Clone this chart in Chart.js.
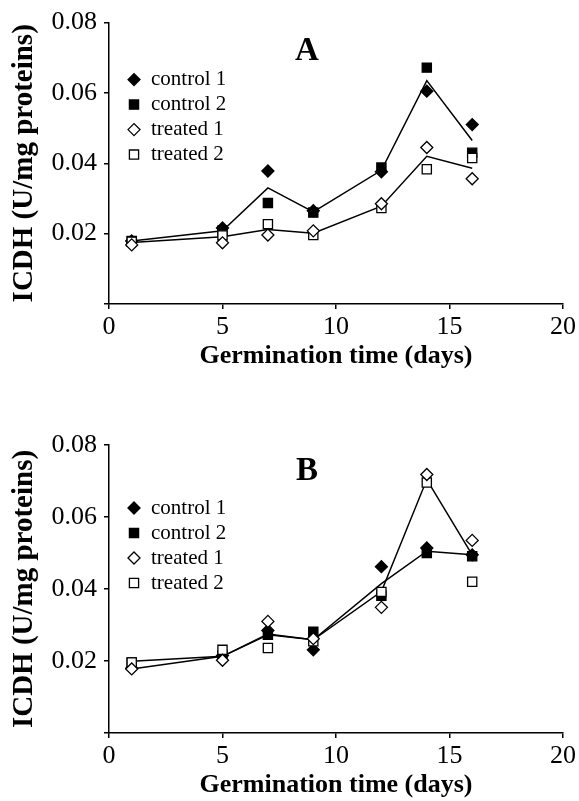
<!DOCTYPE html>
<html>
<head>
<meta charset="utf-8">
<script src="https://cdn.jsdelivr.net/npm/chart.js@4.4.1/dist/chart.umd.min.js"></script>
<style>
  body { margin: 0; background: #fff; }
  .panel { position: absolute; left: 0; width: 579px; }
  #panelA { top: 0; height: 400px; }
  #panelB { top: 400px; height: 401px; }
</style>
</head>
<body>
<div class="panel" id="panelA"><canvas id="chartA" width="579" height="400"></canvas></div>
<div class="panel" id="panelB"><canvas id="chartB" width="579" height="401"></canvas></div>
<script>
// sampling days (x) and axis ticks
const days = [1, 5, 7, 9, 12, 14, 16];
const yTicks = [0.02, 0.04, 0.06, 0.08];
const yTickLabels = ['0.02', '0.04', '0.06', '0.08'];
const seriesNames = ['control 1', 'control 2', 'treated 1', 'treated 2'];

// panel A values (U/mg proteins)
const aControl1 = [0.0179, 0.0216, 0.0378, 0.0265, 0.0376, 0.0605, 0.0510];
const aControl2 = [0.0179, 0.0209, 0.0287, 0.0260, 0.0388, 0.0672, 0.0430];
const aTreated1 = [0.0168, 0.0174, 0.0196, 0.0208, 0.0285, 0.0445, 0.0356];
const aTreated2 = [0.0177, 0.0195, 0.0227, 0.0196, 0.0273, 0.0383, 0.0415];
const aControlLine = [0.0179, 0.0208, 0.0330, 0.0262, 0.0380, 0.0635, 0.0465];
const aTreatedLine = [0.0175, 0.0191, 0.0212, 0.0201, 0.0278, 0.0420, 0.0386];

// panel B values
const bControl1 = [0.0180, 0.0215, 0.0285, 0.0231, 0.0462, 0.0514, 0.0495];
const bControl2 = [0.0196, 0.0215, 0.0273, 0.0281, 0.0381, 0.0500, 0.0491];
const bTreated1 = [0.0178, 0.0202, 0.0310, 0.0262, 0.0349, 0.0718, 0.0535];
const bTreated2 = [0.0196, 0.0231, 0.0236, 0.0255, 0.0392, 0.0696, 0.0420];
const bControlLine = [0.0199, 0.0213, 0.0275, 0.0259, 0.0415, 0.0505, 0.0495];
const bTreatedLine = [0.0178, 0.0213, 0.0273, 0.0259, 0.0393, 0.0704, 0.0495];

const serif = '"Liberation Serif", "Times New Roman", serif';
Chart.defaults.font.family = serif;
Chart.defaults.color = '#000';

const pts = values => days.map((d, i) => ({ x: d, y: values[i] }));

// marker look for each of the four series
const markerStyles = [
  { style: 'rectRot', bg: '#000', r: 6 },
  { style: 'rect', bg: '#000', r: 6.5 },
  { style: 'rectRot', bg: '#fff', r: 6 },
  { style: 'rect', bg: '#fff', r: 6.5 },
];

// panel letter + legend drawn inside the plot area
const panelExtras = {
  id: 'panelExtras',
  afterDatasetsDraw(chart, args, opts) {
    const ctx = chart.ctx;
    const area = chart.chartArea;
    ctx.save();
    ctx.fillStyle = '#000';
    ctx.textAlign = 'center';
    ctx.textBaseline = 'alphabetic';
    ctx.font = 'bold 33px ' + serif;
    ctx.fillText(opts.letter, opts.letterX, area.top + opts.letterY);

    ctx.font = '21px ' + serif;
    ctx.textAlign = 'left';
    ctx.textBaseline = 'middle';
    let row = 0;
    chart.data.datasets.forEach(ds => {
      if (!ds.inLegend) return;
      const y = area.top + opts.legendY + row * opts.legendGap;
      ctx.fillStyle = ds.pointBackgroundColor;
      ctx.strokeStyle = '#000';
      ctx.lineWidth = ds.pointBorderWidth;
      Chart.helpers.drawPoint(ctx, {
        pointStyle: ds.pointStyle, radius: ds.pointRadius, rotation: 0, borderWidth: ds.pointBorderWidth
      }, opts.legendX, y);
      ctx.fillStyle = '#000';
      ctx.fillText(ds.label, opts.legendX + 17, y);
      row++;
    });
    ctx.restore();
  }
};

function makePanel(canvasId, letter, seriesData, lineData, box) {
  const markerSets = seriesData.map((vals, i) => ({
    label: seriesNames[i],
    data: pts(vals),
    inLegend: true,
    showLine: false,
    pointStyle: markerStyles[i].style,
    pointRadius: markerStyles[i].r,
    pointBackgroundColor: markerStyles[i].bg,
    pointBorderColor: '#000',
    pointBorderWidth: 1.3,
    order: i < 2 ? 3 : 2,
  }));
  const lineSets = lineData.map(vals => ({
    label: '',
    data: pts(vals),
    showLine: true,
    borderColor: '#000',
    borderWidth: 1.5,
    pointRadius: 0,
    tension: 0,
    order: 5,
  }));

  return new Chart(document.getElementById(canvasId), {
    type: 'scatter',
    data: { datasets: [...markerSets, ...lineSets] },
    options: {
      responsive: false,
      animation: false,
      layout: { padding: { top: box.top, right: 16, left: 0, bottom: 0 } },
      plugins: {
        legend: { display: false },
        tooltip: { enabled: false },
        panelExtras: box.extras,
      },
      scales: {
        x: {
          type: 'linear', min: 0, max: 20,
          ticks: { stepSize: 5, font: { size: 26 }, padding: 3, maxRotation: 0, color: '#000' },
          grid: { drawOnChartArea: false, drawTicks: true, tickLength: 5, color: '#000', lineWidth: 1.5 },
          border: { color: '#000', width: 1.5 },
          title: {
            display: true, text: 'Germination time (days)',
            font: { size: 26, weight: 'bold' }, padding: { top: 0, bottom: box.xTitlePad }
          },
          afterFit: s => { s.height = box.xHeight; }
        },
        y: {
          type: 'linear', min: 0, max: 0.08,
          ticks: {
            stepSize: 0.02, font: { size: 26 }, padding: 7, color: '#000',
            callback: v => {
              const i = yTicks.findIndex(t => Math.abs(t - v) < 1e-9);
              return i < 0 ? '' : yTickLabels[i];
            }
          },
          grid: { drawOnChartArea: false, drawTicks: true, tickLength: 5, color: '#000', lineWidth: 1.5 },
          border: { color: '#000', width: 1.5 },
          title: {
            display: true, text: 'ICDH (U/mg proteins)',
            font: { size: 29, weight: 'bold' }, padding: { top: 7, bottom: 0 }
          },
          afterFit: s => { s.width = 109; }
        }
      }
    },
    plugins: [panelExtras]
  });
}

makePanel('chartA', 'A',
  [aControl1, aControl2, aTreated1, aTreated2],
  [aControlLine, aTreatedLine],
  { top: 18, xHeight: 96, xTitlePad: 28,
    extras: { letter: 'A', letterX: 307, letterY: 37, legendX: 134, legendY: 57, legendGap: 25 } });

makePanel('chartB', 'B',
  [bControl1, bControl2, bTreated1, bTreated2],
  [bControlLine, bTreatedLine],
  { top: 45, xHeight: 68, xTitlePad: 0,
    extras: { letter: 'B', letterX: 307, letterY: 35, legendX: 134, legendY: 63, legendGap: 25 } });
</script>
</body>
</html>
